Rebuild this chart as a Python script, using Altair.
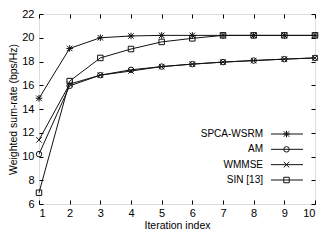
import altair as alt
import pandas as pd

iterations = [1, 2, 3, 4, 5, 6, 7, 8, 9, 10]
series_names = ["SPCA-WSRM", "AM", "WMMSE", "SIN [13]"]
spca_wsrm = [14.9, 19.1, 20.0, 20.15, 20.2, 20.2, 20.2, 20.2, 20.2, 20.2]
am = [10.2, 15.95, 16.85, 17.3, 17.57, 17.78, 17.95, 18.08, 18.2, 18.3]
wmmse = [11.4, 16.1, 16.85, 17.2, 17.57, 17.78, 17.95, 18.08, 18.2, 18.3]
sin13 = [6.95, 16.35, 18.3, 19.05, 19.65, 19.95, 20.2, 20.2, 20.2, 20.2]
x_ticks = [1, 2, 3, 4, 5, 6, 7, 8, 9, 10]
y_ticks = [6, 8, 10, 12, 14, 16, 18, 20, 22]

rows = []
for name, vals in zip(series_names, [spca_wsrm, am, wmmse, sin13]):
    for it, v in zip(iterations, vals):
        rows.append({"iter": it, "rate": v, "series": name})
df = pd.DataFrame(rows)
legend_df = pd.DataFrame({"series": series_names})

W, H = 276, 190
FONT = "Liberation Sans"
INK = "#111"

asterisk = "M-1,-1L1,1M-1,1L1,-1M-1.2,0L1.2,0M0,-1.2L0,1.2"
xmark = "M-1,-1L1,1M-1,1L1,-1"
shapes = [asterisk, "circle", xmark, "square"]
shape_scale = alt.Scale(domain=series_names, range=shapes)

x_enc = alt.X(
    "iter:Q",
    scale=alt.Scale(domain=[1, 10], nice=False, zero=False),
    axis=alt.Axis(
        values=x_ticks, title="Iteration index", grid=True,
        gridDash=[4, H - 8, 4], gridColor="#000", gridOpacity=1, gridWidth=1,
        ticks=False, domain=False, labelPadding=3, labelFontSize=11,
        labelColor="#000", titleFontSize=10.5, titleFontWeight="normal",
        titleColor="#000", titlePadding=2, labelFont=FONT, titleFont=FONT,
    ),
)
y_enc = alt.Y(
    "rate:Q",
    scale=alt.Scale(domain=[6, 22], nice=False, zero=False),
    axis=alt.Axis(
        values=y_ticks, title="Weighted sum-rate (bps/Hz)", grid=True,
        gridDash=[4, W - 8, 4], gridColor="#000", gridOpacity=1, gridWidth=1,
        ticks=False, domain=False, labelPadding=5, labelFontSize=11,
        labelColor="#000", titleFontSize=10.5, titleFontWeight="normal",
        titleColor="#000", titlePadding=3, labelFont=FONT, titleFont=FONT,
    ),
)

lines = alt.Chart(df).mark_line(strokeWidth=1, color=INK).encode(
    x=x_enc, y=y_enc, detail="series:N",
)

points = alt.Chart(df).mark_point(filled=False, size=30, strokeWidth=1, color=INK, opacity=1).encode(
    x=x_enc, y=y_enc,
    shape=alt.Shape("series:N", scale=shape_scale, legend=None),
)
main = alt.layer(lines, points)

# legend block (gnuplot style: label, then line with marker)
leg_y = alt.Y(
    "series:N",
    scale=alt.Scale(type="point", domain=series_names, range=[120, 166], padding=0),
    axis=None,
)
leg_text = alt.Chart(legend_df).mark_text(
    align="right", baseline="middle", fontSize=10, font=FONT, color="#000"
).encode(x=alt.value(224), y=leg_y, text="series:N")
leg_line = alt.Chart(legend_df).mark_rule(strokeWidth=1, color=INK).encode(
    x=alt.value(232), x2=alt.value(264), y=leg_y,
)
leg_point = alt.Chart(legend_df).mark_point(
    filled=False, size=30, strokeWidth=1, color=INK, opacity=1
).encode(
    x=alt.value(247.5), y=leg_y,
    shape=alt.Shape("series:N", scale=shape_scale, legend=None),
)
legend_layer = alt.layer(leg_line, leg_point, leg_text)

chart = alt.layer(main, legend_layer).resolve_scale(y="independent").properties(
    width=W, height=H, padding=0,
).configure_view(stroke="#000", strokeWidth=1).configure(font=FONT)

chart.save("out.html", embed_options={"renderer": "svg", "actions": False})
